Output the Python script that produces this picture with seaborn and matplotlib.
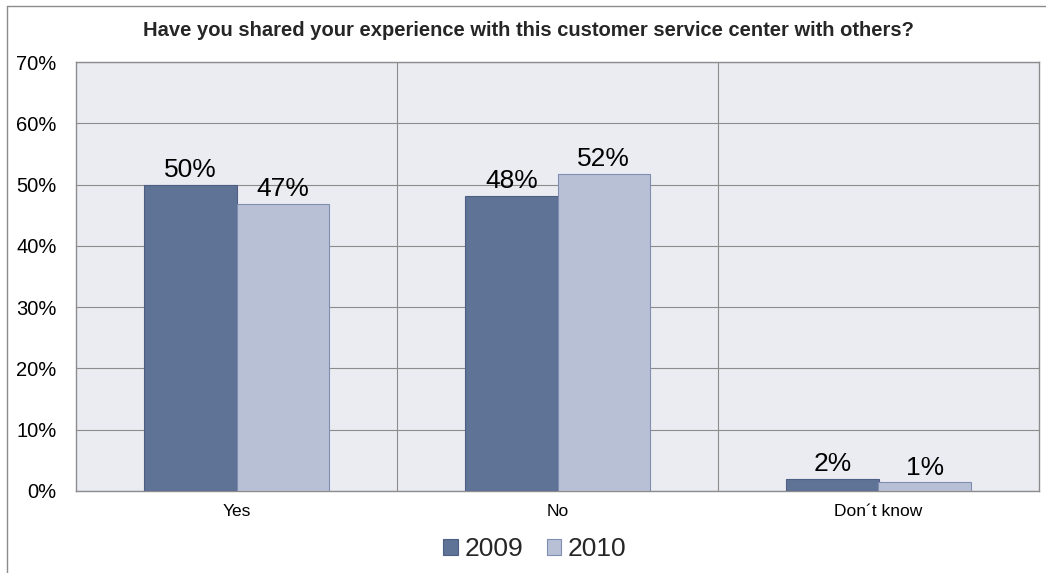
import matplotlib
matplotlib.use("Agg")
import matplotlib.pyplot as plt
import seaborn as sns
import pandas as pd
from matplotlib.patches import Rectangle
from matplotlib.ticker import FuncFormatter

categories = ["Yes", "No", "Don\u00b4t know"]
years = ["2009", "2010"]
values_2009 = [50.0, 48.1, 2.0]
values_2010 = [46.9, 51.7, 1.4]
y_ticks = [0, 10, 20, 30, 40, 50, 60, 70]

df = pd.DataFrame({
    "answer": categories * 2,
    "year": [years[0]] * 3 + [years[1]] * 3,
    "share": values_2009 + values_2010,
})

sns.set_theme(style="white")
plt.rcParams["font.family"] = ["Liberation Sans", "DejaVu Sans"]

fig = plt.figure(figsize=(10.46, 5.73), dpi=100)
ax = fig.add_axes([76 / 1046, 1 - 491 / 573, (1039 - 76) / 1046, (491 - 62) / 573])

palette = {"2009": "#5F7396", "2010": "#B8C0D6"}
edges = {"2009": "#4E5E85", "2010": "#7F8DB0"}

sns.barplot(data=df, x="answer", y="share", hue="year", order=categories,
            hue_order=years, palette=palette, width=0.575, gap=0,
            saturation=1, ax=ax, legend=False, zorder=3)

for cont, yr in zip(ax.containers, years):
    for bar in cont:
        bar.set_edgecolor(edges[yr])
        bar.set_linewidth(0.8)
    ax.bar_label(cont, labels=[f"{v:.0f}%" for v in cont.datavalues],
                 padding=2, fontsize=19, color="black")

ax.set_facecolor("#EBECF2")
ax.set_ylim(0, 70)
ax.set_xlim(-0.5, 2.5)
ax.set_yticks(y_ticks)
ax.yaxis.set_major_formatter(FuncFormatter(lambda v, p: f"{v:.0f}%"))
ax.grid(axis="y", color="#8C8C8C", linewidth=0.8, zorder=1)
ax.set_axisbelow(True)
for xv in [0.5, 1.5]:
    ax.axvline(xv, color="#8C8C8C", linewidth=0.8, zorder=1)
for sp in ax.spines.values():
    sp.set_visible(True)
    sp.set_color("#8C8C8C")
    sp.set_linewidth(1.0)

ax.set_xlabel("")
ax.set_ylabel("")
ax.tick_params(axis="y", labelsize=14.5, length=0, pad=14, colors="black")
ax.tick_params(axis="x", labelsize=12.5, length=0, pad=9, colors="black")

fig.suptitle("Have you shared your experience with this customer service center with others?",
             fontsize=14.5, fontweight="bold", x=528 / 1046, y=1 - 31 / 573, va="center")

handles = [Rectangle((0, 0), 1, 1, facecolor=palette[y], edgecolor=edges[y], linewidth=0.8)
           for y in years]
fig.legend(handles, years, loc="center", bbox_to_anchor=(535 / 1046, 1 - 549 / 573),
           ncol=2, frameon=False, fontsize=19, handlelength=0.55, handleheight=0.55,
           handletextpad=0.25, columnspacing=0.9, borderpad=0)

# figure frame on the left and top
fig.add_artist(plt.Line2D([7 / 1046, 7 / 1046], [0, 1 - 6 / 573], color="#8C8C8C", linewidth=1.0,
                          transform=fig.transFigure))
fig.add_artist(plt.Line2D([7 / 1046, 1], [1 - 6 / 573, 1 - 6 / 573], color="#8C8C8C", linewidth=1.0,
                          transform=fig.transFigure))

fig.savefig("out.png", dpi=100)
